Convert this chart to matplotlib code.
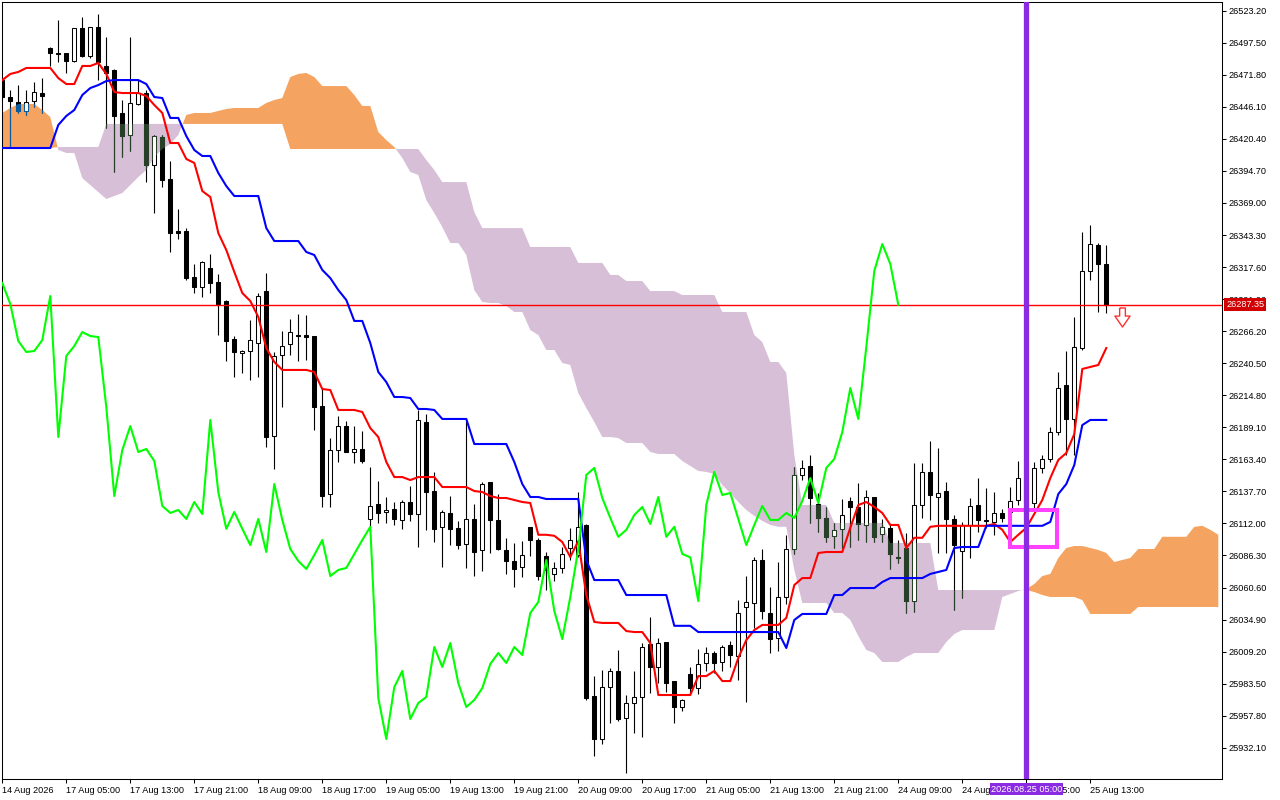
import numpy as np
import matplotlib
matplotlib.use("Agg")
import matplotlib.pyplot as plt
from matplotlib.path import Path
from matplotlib.patches import PathPatch, Rectangle

plt.rcParams['font.family'] = ['Liberation Sans', 'DejaVu Sans']

# H1 candles, one per bar index 0..138
highs = np.array([
    26469.2, 26459.6, 26463.6, 26459.6, 26466.0, 26469.2, 26494.1, 26515.8, 26489.3, 26509.3,
    26518.2, 26510.1, 26520.6, 26502.1, 26476.5, 26451.6, 26502.1, 26467.6, 26459.6, 26423.5,
    26423.5, 26402.7, 26364.2, 26348.9, 26320.1, 26322.5, 26328.1, 26312.1, 26291.2, 26262.3,
    26251.1, 26275.2, 26296.8, 26312.9, 26249.5, 26266.3, 26276.0, 26280.0, 26279.2, 26262.3,
    26220.6, 26180.5, 26198.2, 26194.2, 26190.1, 26186.1, 26157.3, 26146.0, 26133.2, 26129.2,
    26130.8, 26142.0, 26203.0, 26199.8, 26153.3, 26122.8, 26134.0, 26114.0, 26195.8, 26127.6,
    26145.2, 26145.2, 26135.6, 26100.5, 26096.3, 26097.9, 26109.3, 26100.5, 26089.1, 26081.1,
    26093.1, 26108.5, 26137.2, 26111.6, 25989.6, 25994.5, 25996.1, 26010.5, 25974.4, 25993.7,
    26016.1, 26037.0, 26020.1, 26016.9, 25985.6, 25971.2, 25996.9, 26011.3, 26012.9, 26009.7,
    26014.5, 26017.7, 26050.6, 26069.8, 26085.1, 26091.5, 26061.0, 26081.1, 26102.9, 26157.3,
    26162.9, 26166.9, 26136.4, 26125.2, 26112.4, 26131.6, 26133.2, 26144.4, 26138.8, 26133.2,
    26115.6, 26111.6, 26098.7, 26104.5, 26160.5, 26160.5, 26178.1, 26172.5, 26145.2, 26118.8,
    26113.2, 26132.4, 26148.4, 26140.4, 26137.2, 26123.6, 26141.2, 26162.1, 26154.9, 26161.3,
    26166.9, 26189.3, 26233.5, 26250.3, 26277.6, 26345.7, 26351.4, 26336.9, 26335.3])

opens = np.array([
    26467.6, 26454.0, 26450.0, 26442.8, 26450.8, 26457.2, 26493.3, 26489.3, 26489.3, 26482.9,
    26509.3, 26486.9, 26510.1, 26478.9, 26475.7, 26441.2, 26423.5, 26448.4, 26457.2, 26399.5,
    26421.9, 26388.2, 26346.5, 26346.5, 26309.6, 26301.6, 26316.9, 26305.6, 26290.4, 26259.9,
    26248.7, 26250.3, 26256.7, 26298.4, 26182.1, 26247.1, 26255.9, 26263.1, 26263.1, 26262.3,
    26206.2, 26135.6, 26170.9, 26190.1, 26169.3, 26171.7, 26115.6, 26127.6, 26121.2, 26123.6,
    26114.8, 26129.2, 26119.6, 26193.4, 26138.0, 26109.3, 26120.4, 26108.5, 26095.5, 26115.6,
    26090.7, 26145.2, 26114.8, 26090.7, 26081.9, 26077.1, 26109.3, 26098.7, 26085.9, 26071.5,
    26076.3, 26092.3, 26086.7, 26110.8, 25973.6, 25939.1, 25980.8, 25993.7, 25956.0, 25968.0,
    25972.8, 26015.3, 25996.9, 26016.9, 25985.6, 25964.8, 25991.3, 25980.0, 26000.1, 26008.1,
    26000.9, 26014.5, 26005.7, 26045.0, 26048.2, 26082.7, 26040.2, 26020.1, 26053.0, 26091.5,
    26150.9, 26158.1, 26127.6, 26116.4, 26102.1, 26107.7, 26130.0, 26125.2, 26110.8, 26133.2,
    26103.7, 26108.5, 26084.3, 26092.3, 26049.8, 26126.8, 26153.3, 26133.2, 26138.0, 26115.6,
    26089.9, 26110.8, 26126.8, 26114.0, 26113.2, 26120.4, 26121.2, 26130.8, 26148.4, 26128.4,
    26156.5, 26163.7, 26185.3, 26223.0, 26195.8, 26252.7, 26314.5, 26335.3, 26320.1])

closes = np.array([
    26454.0, 26450.8, 26442.8, 26450.0, 26458.0, 26454.8, 26489.3, 26488.5, 26482.9, 26509.3,
    26486.9, 26510.1, 26482.1, 26473.3, 26438.8, 26422.7, 26449.2, 26457.2, 26399.5, 26422.7,
    26387.4, 26344.9, 26344.9, 26308.8, 26301.6, 26321.7, 26304.8, 26288.0, 26258.3, 26249.5,
    26250.3, 26259.1, 26294.4, 26181.3, 26246.3, 26254.3, 26265.5, 26262.3, 26261.5, 26205.4,
    26134.0, 26170.9, 26190.1, 26169.3, 26171.7, 26162.1, 26126.0, 26120.4, 26122.8, 26115.6,
    26129.2, 26119.6, 26195.0, 26137.2, 26107.7, 26121.2, 26107.7, 26094.7, 26115.6, 26089.1,
    26143.6, 26114.8, 26091.5, 26081.9, 26075.5, 26086.7, 26098.7, 26069.8, 26074.7, 26076.3,
    26087.5, 26098.7, 26109.3, 25972.0, 25939.1, 25980.8, 25993.7, 25955.2, 25968.0, 25972.8,
    26012.9, 25996.9, 26016.1, 25984.0, 25964.8, 25970.4, 25980.0, 25999.3, 26008.1, 26000.1,
    26012.9, 26006.5, 26040.2, 26049.0, 26082.7, 26041.8, 26019.3, 26053.0, 26091.5, 26150.9,
    26156.5, 26132.4, 26116.4, 26101.3, 26106.9, 26118.8, 26125.2, 26111.6, 26133.2, 26101.3,
    26109.3, 26087.5, 26084.8, 26049.8, 26126.8, 26153.3, 26134.8, 26136.4, 26115.6, 26094.7,
    26110.8, 26126.0, 26114.8, 26114.8, 26120.4, 26116.4, 26130.0, 26148.4, 26128.4, 26156.5,
    26163.7, 26185.3, 26220.6, 26195.8, 26253.5, 26314.5, 26336.1, 26320.1, 26287.35])

lows = np.array([
    26451.6, 26413.1, 26441.2, 26439.6, 26446.0, 26441.2, 26478.9, 26482.1, 26473.3, 26482.1,
    26486.1, 26485.3, 26467.6, 26429.1, 26393.9, 26405.9, 26410.7, 26447.6, 26385.8, 26361.0,
    26381.8, 26329.7, 26340.1, 26307.2, 26296.8, 26293.6, 26296.8, 26263.1, 26242.3, 26229.4,
    26232.7, 26227.0, 26229.4, 26173.3, 26155.7, 26205.4, 26247.1, 26242.3, 26243.1, 26186.9,
    26125.2, 26125.2, 26161.3, 26169.3, 26160.5, 26160.5, 26109.3, 26112.4, 26112.4, 26110.8,
    26107.7, 26114.0, 26093.1, 26106.9, 26097.1, 26077.1, 26094.7, 26091.5, 26076.3, 26069.8,
    26073.9, 26088.3, 26090.7, 26071.5, 26061.0, 26069.0, 26085.9, 26066.6, 26058.6, 26065.8,
    26072.3, 26082.7, 26085.1, 25970.4, 25925.5, 25935.1, 25952.0, 25953.6, 25911.9, 25944.0,
    25940.7, 25976.0, 25984.0, 25976.8, 25952.0, 25961.6, 25976.0, 25975.2, 25993.7, 25992.1,
    25993.7, 25996.9, 25986.4, 25968.8, 26028.1, 26035.4, 26008.1, 26009.7, 26047.4, 26087.5,
    26146.8, 26112.4, 26105.3, 26097.1, 26092.3, 26092.3, 26093.1, 26098.7, 26097.1, 26097.1,
    26097.1, 26075.5, 26080.3, 26040.2, 26041.0, 26116.4, 26114.8, 26088.3, 26088.3, 26042.6,
    26052.2, 26084.3, 26105.3, 26108.5, 26102.9, 26113.2, 26120.4, 26126.8, 26126.0, 26124.4,
    26152.5, 26161.3, 26182.9, 26166.9, 26166.9, 26251.1, 26307.2, 26281.6, 26280.8])

# Ichimoku lines
tenkan = np.array([
    26467.6, 26472.5, 26474.1, 26477.3, 26477.3, 26477.3, 26477.3, 26469.2, 26464.4, 26464.4,
    26478.9, 26478.9, 26481.3, 26472.5, 26458.0, 26457.2, 26457.2, 26457.2, 26454.8, 26447.6,
    26441.2, 26417.1, 26417.1, 26404.3, 26401.1, 26378.6, 26373.8, 26344.9, 26331.3, 26313.7,
    26296.8, 26290.4, 26277.6, 26252.7, 26241.5, 26235.1, 26235.1, 26235.1, 26235.1, 26233.5,
    26219.8, 26219.0, 26203.0, 26203.0, 26203.0, 26201.4, 26188.5, 26181.3, 26161.3, 26149.2,
    26149.2, 26146.8, 26149.2, 26149.2, 26149.2, 26141.2, 26141.2, 26141.2, 26141.2, 26138.0,
    26137.2, 26134.0, 26132.4, 26132.4, 26130.8, 26129.2, 26128.4, 26102.9, 26102.9, 26102.1,
    26097.1, 26085.1, 26097.9, 26054.6, 26033.0, 26032.2, 26032.2, 26032.2, 26025.7, 26024.9,
    26024.9, 26016.1, 25974.4, 25974.4, 25974.4, 25974.4, 25974.4, 25989.6, 25989.6, 25993.7,
    25985.6, 25985.6, 26004.1, 26018.5, 26026.5, 26030.6, 26030.6, 26030.6, 26036.2, 26062.6,
    26068.2, 26068.2, 26088.3, 26089.1, 26089.1, 26089.1, 26108.5, 26126.8, 26129.2, 26125.2,
    26120.4, 26110.8, 26110.8, 26092.3, 26100.5, 26100.5, 26109.3, 26110.1, 26110.1, 26110.1,
    26110.1, 26110.1, 26110.1, 26110.1, 26111.6, 26106.9, 26097.1, 26102.9, 26108.5, 26119.6,
    26130.8, 26148.4, 26162.9, 26168.5, 26183.7, 26235.9, 26237.5, 26239.1, 26252.7])

kijun = np.array(
    [26413.1] * 7 + [26431.6, 26438.8, 26443.6,
    26455.6, 26461.2, 26463.6, 26466.8, 26467.6, 26467.6, 26467.6, 26467.6, 26464.4, 26454.0,
    26453.2, 26437.2, 26437.2, 26422.7, 26411.5, 26406.7, 26406.7, 26393.1, 26382.6, 26374.6,
    26374.6, 26374.6, 26374.6, 26348.9, 26338.5, 26338.5, 26338.5, 26338.5, 26329.7, 26327.3,
    26315.3, 26308.8, 26299.2, 26291.2, 26274.4, 26274.4, 26256.7, 26233.5, 26225.4, 26213.4,
    26213.4, 26212.6, 26203.8, 26203.8, 26203.0, 26195.8, 26195.8, 26195.8, 26195.8, 26175.7,
    26175.7, 26175.7, 26175.7, 26175.7, 26161.3, 26143.6, 26133.2, 26133.2, 26131.6, 26131.6,
    26131.6, 26131.6, 26131.6, 26082.7, 26066.6, 26066.6, 26066.6, 26066.6, 26054.6, 26054.6,
    26054.6, 26054.6, 26054.6, 26054.6, 26029.9, 26029.9, 26029.9, 26024.9, 26024.9, 26024.9]
    + [26024.9] * 8 + [26012.1, 26034.6,
    26039.4, 26039.4, 26039.4, 26039.4, 26054.6, 26054.6, 26060.2, 26060.2, 26060.2, 26060.2,
    26065.0, 26068.2, 26068.2, 26068.2, 26068.2, 26068.2, 26071.5, 26073.1, 26074.7, 26092.3,
    26093.1, 26093.1, 26093.1, 26110.1, 26110.1, 26110.1, 26110.1, 26110.1, 26110.1, 26110.1,
    26110.1, 26113.2, 26135.6, 26143.6, 26158.9, 26190.9, 26195.0, 26195.0, 26195.0])

# Senkou spans, already shifted 26 bars forward (bar index 0..152)
span_a = np.array([
    26441.2, 26445.2, 26448.4, 26448.4, 26448.4, 26443.6, 26438.0, 26411.5, 26409.1, 26409.1,
    26389.0, 26383.4, 26377.8, 26372.2, 26374.6, 26377.0, 26383.4, 26389.8, 26395.5, 26405.9,
    26412.3, 26416.3, 26423.5, 26439.6, 26441.2, 26441.2, 26441.2, 26442.8, 26444.4, 26445.2,
    26445.2, 26445.2, 26445.2, 26449.2, 26451.6, 26453.2, 26470.0, 26472.5, 26473.3, 26470.0,
    26462.8, 26462.8, 26462.8, 26462.8, 26455.6, 26446.8, 26446.8, 26425.9, 26419.5, 26413.9,
    26405.1, 26393.9, 26391.5, 26371.4, 26361.0, 26349.7, 26336.9, 26336.9, 26327.3, 26299.2,
    26289.6, 26288.8, 26288.8, 26286.4, 26281.6, 26281.6, 26267.1, 26263.1, 26251.1, 26251.1,
    26240.7, 26239.1, 26216.6, 26204.6, 26193.4, 26181.3, 26181.3, 26180.5, 26176.5, 26176.5,
    26176.5, 26169.3, 26167.7, 26167.7, 26167.7, 26162.1, 26158.1, 26154.1, 26153.3, 26151.7,
    26142.8, 26136.4, 26129.2, 26122.8, 26118.0, 26114.0, 26110.8, 26109.3, 26109.3, 26074.7,
    26048.2, 26048.2, 26048.2, 26048.2, 26040.2, 26040.2, 26034.6, 26021.7, 26010.5, 26008.1,
    26000.9, 26000.9, 26000.9, 26004.9, 26008.1, 26008.1, 26008.1, 26008.1, 26016.9, 26023.3,
    26026.5, 26026.5, 26026.5, 26026.5, 26026.5, 26053.0, 26055.4, 26057.8, 26059.4, 26063.4,
    26069.8, 26071.5, 26084.3, 26092.3, 26093.9, 26093.9, 26092.3, 26090.7, 26088.3, 26081.1,
    26082.7, 26084.3, 26091.5, 26091.5, 26091.5, 26101.3, 26101.3, 26101.3, 26101.3, 26109.3,
    26110.1, 26106.9, 26102.9])

span_b = np.array(
    [26413.1] * 7 + [26413.9] * 6 + [26432.4] * 23 + [26412.3] * 17
    + [26403.5, 26395.5, 26385.8, 26385.8, 26385.8, 26385.8, 26361.8]
    + [26348.9] * 6 + [26333.7] * 6 + [26320.9] * 4 + [26311.3] * 2 + [26306.4] * 3
    + [26298.4] * 4 + [26295.2] * 5 + [26281.6] * 4
    + [26263.1, 26257.5, 26241.5, 26241.5, 26232.7, 26166.9]
    + [26126.8] * 4 + [26112.4] * 7 + [26096.3] * 6 + [26058.6] * 12
    + [26057.0, 26054.6, 26053.0, 26053.0, 26053.0, 26053.0, 26050.6]
    + [26039.4] * 6 + [26045.0] * 11)

assert len(highs) == len(opens) == len(closes) == len(lows) == len(tenkan) == len(kijun) == 139
assert len(span_a) == len(span_b) == 153

chikou_shift = 26

x_labels = ["14 Aug 2026", "17 Aug 05:00", "17 Aug 13:00", "17 Aug 21:00", "18 Aug 09:00",
            "18 Aug 17:00", "19 Aug 05:00", "19 Aug 13:00", "19 Aug 21:00", "20 Aug 09:00",
            "20 Aug 17:00", "21 Aug 05:00", "21 Aug 13:00", "21 Aug 21:00", "24 Aug 09:00",
            "24 Aug 17:00", "25 Aug 05:00", "25 Aug 13:00"]
x_label_bars = list(range(0, 137, 8))

price_ticks = [26523.20, 26497.50, 26471.80, 26446.10, 26420.40, 26394.70, 26369.00, 26343.30,
               26317.60, 26291.90, 26266.20, 26240.50, 26214.80, 26189.10, 26163.40, 26137.70,
               26112.00, 26086.30, 26060.60, 26034.90, 26009.20, 25983.50, 25957.80, 25932.10]

# chart objects
vline_bar = 128
vline_label = "2026.08.25 05:00"
rect_bars = (125.96, 131.84)
rect_prices = (26093.1, 26122.8)
signal_bar = 140
signal_price = 26277.2

orange = '#f4a460'
thistle = '#d8bfd8'

x = np.arange(len(closes))
xc = np.arange(len(span_a))

fig = plt.figure(figsize=(12.8, 8), dpi=100)
ax = fig.add_axes([2.3 / 1280, 21 / 800, 1220 / 1280, 776.7 / 800])
ax.set_xlim(0, 152.5)
ax.set_ylim(25907.04, 26529.96)

# cloud
up = ax.fill_between(xc, span_a, span_b, where=span_a >= span_b, interpolate=True,
                     color=orange, lw=0, zorder=1)
dn = ax.fill_between(xc, span_a, span_b, where=span_a < span_b, interpolate=True,
                     color=thistle, lw=0, zorder=1)


def draw_candles(col, clip=None):
    bull = closes >= opens
    lo = np.minimum(opens, closes)
    h = np.abs(closes - opens)
    arts = [ax.vlines(x, lows, highs, color=col, lw=0.8, zorder=2)]
    arts += list(ax.bar(x[bull], h[bull], bottom=lo[bull], width=0.5, facecolor='white',
                        edgecolor=col, linewidth=0.75, zorder=2.1))
    arts += list(ax.bar(x[~bull], h[~bull], bottom=lo[~bull], width=0.5, facecolor=col,
                        edgecolor=col, linewidth=0.75, zorder=2.1))
    if clip is not None:
        for a in arts:
            a.set_clip_path(clip)


draw_candles('black')
# black pixels inside the cloud come out in the inverted cloud colour
for poly, inv in ((up, '#0b5b9f'), (dn, '#274027')):
    paths = poly.get_paths()
    if paths:
        clip = PathPatch(Path.make_compound_path(*paths), transform=ax.transData)
        draw_candles(inv, clip)

ax.plot(x, tenkan, color='#ff0000', lw=1.5, zorder=4)
ax.plot(x, kijun, color='#0000ff', lw=1.5, zorder=4)
ax.plot(x[:-chikou_shift], closes[chikou_shift:], color='#00ff00', lw=1.5, zorder=4)

bid = closes[-1]
ax.axhline(bid, color='#ff0000', lw=1.0, zorder=3)

ax.add_patch(Rectangle((rect_bars[0], rect_prices[0]), rect_bars[1] - rect_bars[0],
                       rect_prices[1] - rect_prices[0], fill=False, ec='#ff40ff', lw=2.9, zorder=5))
ax.axvline(vline_bar, color='#8a2be2', lw=3.8, zorder=6)

arrow = [(-0.3, 1), (0.3, 1), (0.3, 0.15), (0.8, 0.15), (0, -1), (-0.8, 0.15), (-0.3, 0.15), (-0.3, 1)]
ax.plot([signal_bar], [signal_price], marker=arrow, markersize=13.7, mfc='white',
        mec='#ff3030', mew=1.0, zorder=7, clip_on=False)

# axes styling
for s in ax.spines.values():
    s.set_linewidth(0.75)
    s.set_color('black')
ax.yaxis.tick_right()
ax.set_yticks(price_ticks)
ax.set_yticklabels([f"{v:.2f}" for v in price_ticks])
ax.set_xticks(x_label_bars)
ax.set_xticklabels(x_labels, ha='left')
ax.tick_params(axis='y', direction='out', length=2.9, width=0.75, pad=1.2, labelsize=6.6)
ax.tick_params(axis='x', direction='out', length=2.9, width=0.75, pad=2.0, labelsize=6.6)

ax.annotate(f"{bid:.2f}", xy=(1, bid), xycoords=('axes fraction', 'data'), xytext=(4, 0),
            textcoords='offset pixels', ha='left', va='center', color='white', fontsize=6.6,
            bbox=dict(boxstyle='square,pad=0.2', fc='#d20000', ec='none'),
            annotation_clip=False, zorder=10)
ax.annotate(vline_label, xy=(vline_bar, 0), xycoords=('data', 'axes fraction'), xytext=(0, -10),
            textcoords='offset pixels', ha='center', va='center', color='white', fontsize=6.6,
            bbox=dict(boxstyle='square,pad=0.12', fc='#8a2be2', ec='none'),
            annotation_clip=False, zorder=10)

fig.savefig('out.png', dpi=100, facecolor='white')
